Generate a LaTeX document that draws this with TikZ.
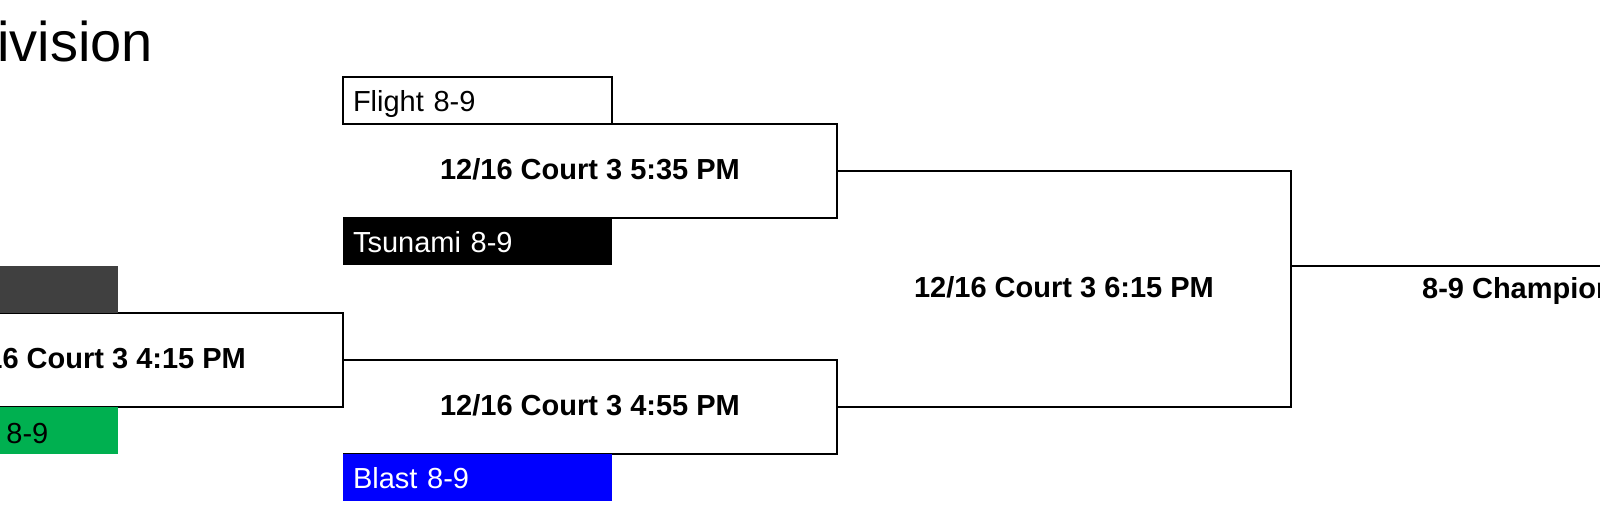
\documentclass[tikz,border=0pt]{standalone}
\usepackage{fontspec}
\setmainfont{Liberation Sans}
\usetikzlibrary{positioning}
\definecolor{teamgrey}{HTML}{404040}
\definecolor{teamgreen}{HTML}{00B050}
\definecolor{teamblue}{HTML}{0000FF}
\tikzset{
  slot/.style = {rectangle, inner sep=0pt, outer sep=0pt, anchor=north west},
  team/.style = {slot, minimum width=134.5pt, minimum height=23.5pt,
    text width=124.5pt, inner xsep=5pt, align=left,
    font=\fontsize{14.5}{17}\selectfont, text height=1.08em, text depth=0pt},% case d'equipe
  match/.style = {slot, minimum width=247pt, minimum height=47pt,
    font=\fontsize{14.5}{17}\selectfont\bfseries, text height=0.86em, text depth=0pt},% case de match
  bracket/.style = {line width=1pt, draw=black}
}

\begin{document}
\begin{tikzpicture}[x=0.5pt, y=-0.5pt]
	\useasboundingbox (0,0) rectangle (1600,505);
	\clip (0,0) rectangle (1600,505);
	\node [anchor=base west, inner sep=0pt, font=\fontsize{28}{32}\selectfont] (division) at (-3,61) {ivision};
	% matchs
	\node [match] (m415) at (-151,313) {12/16 Court 3 4:15 PM};
	\node [match] (m535) at (343,124) {12/16 Court 3 5:35 PM};
	\node [match] (m455) at (343,360) {12/16 Court 3 4:55 PM};
	\node [match, minimum width=227pt, minimum height=118pt] (final) at (837,171) {12/16 Court 3 6:15 PM};
	\node [match, minimum width=227pt, minimum height=23.5pt] (champ) at (1291,266) {8-9 Champion};
	% lignes
	\draw [bracket] (m415.north west) -- (m415.north east) -- (m415.south east) -- (m415.south west);
	\draw [bracket] (m535.north west) -- (m535.north east) -- (m535.south east) -- (m535.south west);
	\draw [bracket] (m415.east) -- (m455.north east) -- (m455.south east) -- (m455.south west);
	\draw [bracket] (m535.east) -- (final.north east) -- (final.south east) -- (m455.east);
	\draw [bracket] (champ.north west) -- (champ.north east);
	% equipes
	\node [team, fill=teamgrey] (grey) at (-151,266) {};
	\node [team, fill=teamgreen] (green) at (-151,407) {};
	\node [anchor=base west, inner sep=0pt, font=\fontsize{14.5}{17}\selectfont] (greenname) at (6,443) {8-9};
	\node [team, draw=black, line width=1pt, fill=white] (flight) at (343,77) {Flight 8-9};
	\node [team, fill=black, text=white] (tsunami) at (343,218) {Tsunami 8-9};
	\node [team, fill=teamblue, text=white] (blast) at (343,454) {Blast 8-9};
\end{tikzpicture}
\end{document}
